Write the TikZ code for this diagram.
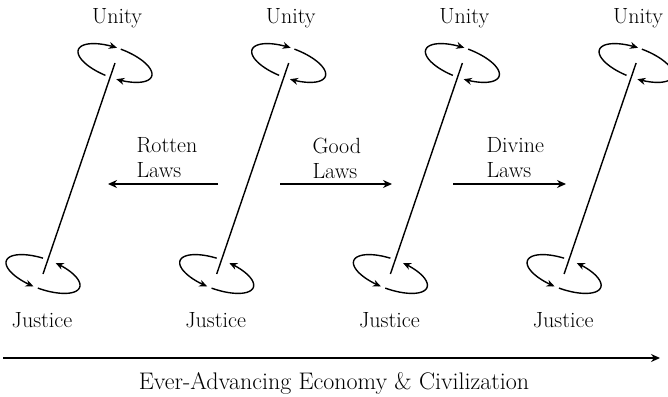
\documentclass[tikz,border=0pt]{standalone}
\usepackage{tikz}
\usetikzlibrary{arrows.meta,positioning}

\begin{document}
\begin{tikzpicture}[x=1pt,y=-1pt,
	font=\fontsize{22}{25}\selectfont,
	axis/.style={line width=1.4pt},
	orbit/.style={line width=1.4pt,-{Stealth[length=8pt,width=7pt]}},
	push/.style={line width=1.4pt,-{Stealth[length=9pt,width=8pt]}},
	declare function={ex(\t)=39*cos(\t)*cos(20)-15*sin(\t)*sin(20);
		ey(\t)=39*cos(\t)*sin(20)+15*sin(\t)*cos(20);}]
	\useasboundingbox (0,0) rectangle (668,396);
	\foreach \i in {0,...,3}{
		\pgfmathsetmacro{\dx}{\i*173.7}
		\coordinate (top\i) at (115+\dx,63);
		\coordinate (bot\i) at (43+\dx,274);
		\node (unity\i) at (117+\dx,18) {Unity};
		\node (justice\i) at (42+\dx,320) {Justice};
		\draw[axis] (top\i) -- (bot\i);
		% top spins one way
		\draw[orbit,shift={(top\i)}] plot[domain=97:265,samples=40,smooth] ({ex(\x)},{ey(\x)});
		\draw[orbit,shift={(top\i)}] plot[domain=271:440,samples=40,smooth] ({ex(\x)},{ey(\x)});
		% bottom spins the other way
		\draw[orbit,shift={(bot\i)}] plot[domain=262:97,samples=40,smooth] ({ex(\x)},{ey(\x)});
		\draw[orbit,shift={(bot\i)}] plot[domain=90:-78,samples=40,smooth] ({ex(\x)},{ey(\x)});
	}
	% laws
	\node[align=left,anchor=west] (rotten) at (133,158) {Rotten\\Laws};
	\node[align=left,anchor=west] (good) at (309,158) {Good\\Laws};
	\node[align=left,anchor=west] (divine) at (483,158) {Divine\\Laws};
	\coordinate (rotten-s) at (218,184);
	\coordinate (rotten-e) at (108,184);
	\coordinate (good-s) at (280,184);
	\coordinate (good-e) at (392,184);
	\coordinate (divine-s) at (453,184);
	\coordinate (divine-e) at (566,184);
	\draw[push] (rotten-s) -- (rotten-e);
	\draw[push] (good-s) -- (good-e);
	\draw[push] (divine-s) -- (divine-e);
	% time line
	\coordinate (time-s) at (3,358);
	\coordinate (time-e) at (660,358);
	\draw[push] (time-s) -- (time-e);
	\node[font=\fontsize{24}{28}\selectfont] (economy) at (334,383) {Ever-Advancing Economy \& Civilization};
\end{tikzpicture}
\end{document}
